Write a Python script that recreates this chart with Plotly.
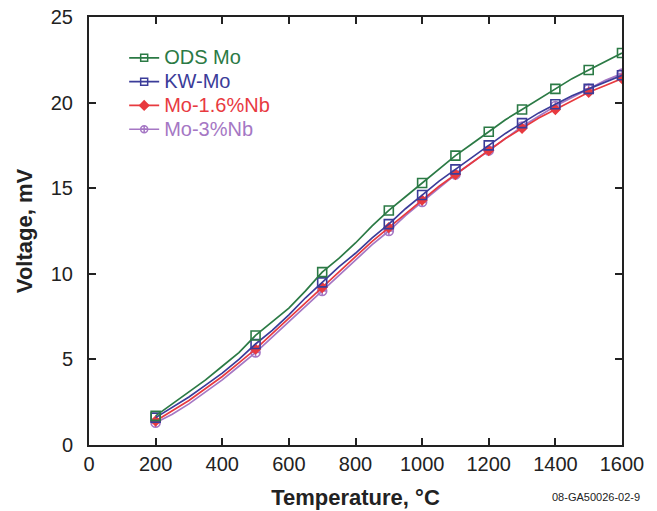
import plotly.graph_objects as go

temps = list(range(200, 1601, 50))
marker_temps = [200, 500, 700, 900, 1000, 1100, 1200, 1300, 1400, 1500, 1600]

ods_mo = [1.7, 2.4, 3.1, 3.8, 4.6, 5.4, 6.4, 7.2, 8.0, 9.0, 10.1, 10.9, 11.8, 12.8, 13.7, 14.5,
          15.3, 16.1, 16.9, 17.6, 18.3, 19.0, 19.6, 20.2, 20.8, 21.4, 21.9, 22.4, 22.9]
kw_mo = [1.6, 2.2, 2.8, 3.5, 4.2, 5.0, 5.9, 6.7, 7.6, 8.6, 9.5, 10.4, 11.2, 12.1, 12.9, 13.8,
         14.6, 15.4, 16.1, 16.8, 17.5, 18.2, 18.8, 19.4, 19.9, 20.4, 20.8, 21.2, 21.6]
mo_16nb = [1.4, 2.0, 2.6, 3.3, 4.0, 4.8, 5.6, 6.5, 7.4, 8.3, 9.2, 10.1, 11.0, 11.9, 12.7, 13.5,
           14.3, 15.1, 15.8, 16.5, 17.2, 17.9, 18.5, 19.1, 19.6, 20.1, 20.6, 21.0, 21.4]
mo_3nb = [1.3, 1.8, 2.4, 3.1, 3.8, 4.6, 5.4, 6.3, 7.2, 8.1, 9.0, 9.9, 10.8, 11.7, 12.5, 13.4,
          14.2, 15.0, 15.8, 16.5, 17.2, 17.9, 18.6, 19.2, 19.8, 20.3, 20.8, 21.3, 21.7]

series = [
    ("ODS Mo", ods_mo, "#2b7a45", "square-open", 9),
    ("KW-Mo", kw_mo, "#3b3c99", "square-open", 9),
    ("Mo-1.6%Nb", mo_16nb, "#e83a3f", "diamond", 7),
    ("Mo-3%Nb", mo_3nb, "#a577c4", "circle-cross-open", 9),
]

fig = go.Figure()
font_family = "Liberation Sans, Arial, sans-serif"

for name, vals, color, sym, size in reversed(series):
    fig.add_trace(go.Scatter(x=temps, y=vals, mode="lines",
                             line=dict(color=color, width=1.7),
                             showlegend=False, hoverinfo="skip"))
    mx = [t for t in temps if t in marker_temps]
    my = [v for t, v in zip(temps, vals) if t in marker_temps]
    fig.add_trace(go.Scatter(x=mx, y=my, mode="markers",
                             marker=dict(symbol=sym, size=size, color=color,
                                         line=dict(color=color, width=1.6)),
                             showlegend=False))

for name, vals, color, sym, size in series:
    fig.add_trace(go.Scatter(x=[None], y=[None], mode="lines+markers",
                             name=f"<span style='color:{color};font-size:20px'>{name}</span>",
                             line=dict(color=color, width=1.7),
                             marker=dict(symbol=sym, size=7, color=color,
                                         line=dict(color=color, width=1.5))))

fig.update_layout(
    width=657, height=511,
    margin=dict(l=89, r=35, t=17, b=66),
    paper_bgcolor="white", plot_bgcolor="white",
    font=dict(family=font_family, size=20, color="#222"),
    legend=dict(x=0.066, y=0.944, xanchor="left", yanchor="top",
                bgcolor="rgba(0,0,0,0)", font=dict(size=16),
                itemwidth=30, tracegroupgap=0),
    showlegend=True,
)
fig.update_xaxes(range=[0, 1600], tickvals=[0, 200, 400, 600, 800, 1000, 1200, 1400, 1600],
                 automargin=False,
                 showgrid=False, zeroline=False, showline=True, linecolor="#222", linewidth=2,
                 mirror="ticks", ticks="inside", ticklen=7, tickwidth=2, tickcolor="#222",
                 tickfont=dict(size=20, color="#222"),
                 title=dict(text="<b>Temperature, °C</b>", font=dict(size=22, color="#222"), standoff=16))
fig.update_yaxes(range=[0, 25], tickvals=[0, 5, 10, 15, 20, 25],
                 automargin=False,
                 showgrid=False, zeroline=False, showline=True, linecolor="#222", linewidth=2,
                 mirror="ticks", ticks="inside", ticklen=7, tickwidth=2, tickcolor="#222",
                 tickfont=dict(size=20, color="#222"), ticklabelstandoff=10,
                 title=dict(text="<b>Voltage, mV</b>", font=dict(size=22, color="#222"), standoff=12))

fig.add_annotation(text="08-GA50026-02-9", xref="paper", yref="paper",
                   x=1.037, y=-0.121, xanchor="right", yanchor="middle",
                   showarrow=False, font=dict(size=11, color="#222"))

fig.write_html("out.html")
